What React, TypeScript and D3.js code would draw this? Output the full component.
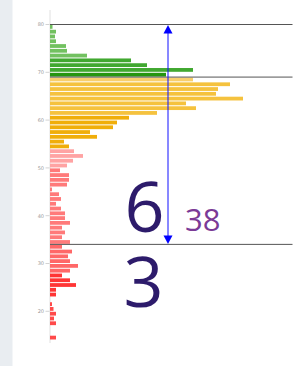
import React from "react";
import * as d3 from "d3";

// Scores from 80 downwards, one bar per score
const topScore = 80;
const greenCounts = [2.5, 6, 5, 6, 16, 17, 37, 81, 97, 143, 116];
const orangeCounts = [143, 180, 168, 166, 193, 136, 146, 107, 79, 67, 63, 40, 47, 14, 19];
const pinkCounts = [24, 33, 23, 17, 10, 19, 19, 17, 2, 9, 11, 6, 11, 15, 15, 20, 12, 15, 12, 20];
const redCounts = [12, 22, 18, 20, 28, 20, 12, 20, 26, 6, 6, 0, 2, 3.5, 6, 4, 6, 0, 0, 6];
const tickValues = [80, 70, 60, 50, 40, 30, 20];
const lineScores = [80, 69, 34];
const bigUpper = "6";
const bigLower = "3";
const sideNumber = "38";

function colorFor(i: number): string {
  if (i <= 6) return "#72c160";
  if (i <= 9) return "#41a830";
  if (i === 10) return "#25950f";
  if (i === 11) return "#f8cf6c";
  if (i <= 18) return "#f5c23e";
  if (i <= 25) return "#f0ae0a";
  if (i <= 29) return "#ffa3a3";
  if (i <= 45) return "#ff7a7a";
  if (i <= 51) return "#ff6868";
  if (i <= 56) return "#ff3535";
  return "#ff4a4a";
}

export default function App() {
  const counts = [...greenCounts, ...orangeCounts, ...pinkCounts, ...redCounts];
  const n = counts.length;
  const pitch = 4.78;
  const y = d3.scaleLinear().domain([topScore, topScore - n]).range([24.5, 24.5 + n * pitch]);
  const x = d3.scaleLinear().domain([0, 250]).range([50, 300]);
  const arrowX = 168;
  const lineEnd = 292.5;

  return (
    <div style={{ position: "absolute", left: 0, top: 0, width: 303, height: 366, background: "#fff" }}>
      <svg width={303} height={366} style={{ display: "block" }}>
        <rect x={0} y={0} width={12.5} height={366} fill="#e9edf1" />
        <line x1={50} x2={50} y1={10} y2={343} stroke="#e0e0e0" strokeWidth={1} />
        {tickValues.map((t) => (
          <g key={t}>
            <line x1={45.5} x2={49.5} y1={y(t)} y2={y(t)} stroke="#c8c8c8" strokeWidth={0.8} />
            <text x={44} y={y(t) + 1.8} fontSize={5} fill="#999" textAnchor="end" fontFamily="DejaVu Sans">
              {t}
            </text>
          </g>
        ))}
        {counts.map((c, i) => {
          const s = topScore - i;
          const y0 = y(s);
          const y1 = y(s - 1);
          return c > 0 ? (
            <rect key={i} x={x(0)} y={y0 + 0.5} width={x(c) - x(0)} height={y1 - y0 - 1} fill={colorFor(i)} />
          ) : null;
        })}
        {lineScores.map((s) => (
          <line key={s} x1={50} x2={lineEnd} y1={y(s)} y2={y(s)} stroke="#555" strokeWidth={1} />
        ))}
        <line x1={arrowX} x2={arrowX} y1={y(80) + 6} y2={y(34) - 6} stroke="#1010ff" strokeWidth={1} />
        <path
          d={`M${arrowX},${y(80) + 0.5} L${arrowX - 4.5},${y(80) + 9} L${arrowX + 4.5},${y(80) + 9} Z`}
          fill="#0000ff"
        />
        <path
          d={`M${arrowX},${y(34) - 0.5} L${arrowX - 4.5},${y(34) - 9} L${arrowX + 4.5},${y(34) - 9} Z`}
          fill="#0000ff"
        />
        <text x={144.5} y={232} fontSize={70} fill="#2d1b6b" textAnchor="middle" fontFamily="Open Sans">
          {bigUpper}
        </text>
        <text x={143.5} y={307} fontSize={70} fill="#2d1b6b" textAnchor="middle" fontFamily="Open Sans">
          {bigLower}
        </text>
        <text x={185} y={231} fontSize={31} fill="#7b3a96" fontFamily="Open Sans">
          {sideNumber}
        </text>
      </svg>
    </div>
  );
}
